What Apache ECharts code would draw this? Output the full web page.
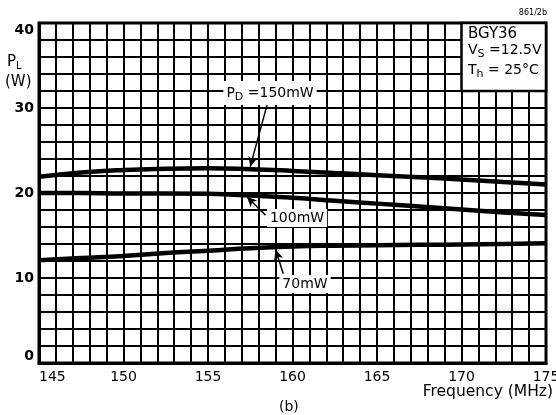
<!DOCTYPE html>
<html>
<head>
<meta charset="utf-8">
<script src="https://cdn.jsdelivr.net/npm/echarts@6/dist/echarts.min.js"></script>
<style>
  html, body { margin: 0; padding: 0; background: #fff; }
  #main { width: 556px; height: 415px; }
</style>
</head>
<body>
<div id="main"></div>
<script>
// frequency (MHz)
var freq = [145, 147.5, 150, 152.5, 155, 157.5, 160, 162.5, 165, 167.5, 170, 172.5, 175]
// output power PL (W) for each drive power
var pd150 = [21.9, 22.4, 22.7, 22.85, 22.9, 22.8, 22.6, 22.35, 22.1, 21.85, 21.6, 21.3, 21.0]
var pd100 = [20.0, 20.0, 19.95, 19.95, 19.9, 19.72, 19.45, 19.1, 18.75, 18.4, 18.05, 17.7, 17.4]
var pd70 = [12.1, 12.35, 12.6, 12.95, 13.2, 13.5, 13.7, 13.8, 13.85, 13.9, 13.95, 14.0, 14.1]
var yTicks = [0, 10, 20, 30, 40]
var xTicks = [145, 150, 155, 160, 165, 170, 175]

var font = 'DejaVu Sans'
var myChart = echarts.init(document.getElementById('main'))

function pairs(ys) {
    var out = []
    for (var i = 0; i < freq.length; i++) {
        out.push([freq[i], ys[i]])
    }
    return out
}

// little pointer from label to curve
function arrow(from, to) {
    return {
        silent: true,
        symbol: ['none', 'arrow'],
        symbolSize: [7, 10],
        label: { show: false },
        lineStyle: { color: '#000', width: 1.5, type: 'solid' },
        data: [[{ coord: from }, { coord: to }]]
    }
}

function tag(pos, text) {
    return {
        silent: true,
        symbol: 'rect',
        symbolSize: 0,
        data: [{
            coord: pos,
            label: {
                show: true,
                position: 'inside',
                formatter: text,
                color: '#000',
                fontFamily: font,
                fontSize: 14,
                backgroundColor: '#fff',
                padding: [2, 3],
                rich: {
                    sub: { fontSize: 11, fontFamily: font, padding: [9, 0, 0, 0] },
                    txt: { fontSize: 14, fontFamily: font }
                }
            }
        }]
    }
}

var lineStyle = { color: '#000', width: 4.5 }

var option = {
    animation: false,
    backgroundColor: '#fff',
    grid: {
        left: 39, right: 10, top: 23, bottom: 52,
        containLabel: false, outerBoundsMode: 'none',
        show: true, borderColor: '#000', borderWidth: 3
    },
    xAxis: {
        type: 'value',
        min: 145, max: 175, interval: 5,
        axisLine: { show: true, lineStyle: { color: '#000', width: 3 } },
        axisTick: { show: false },
        axisLabel: {
            color: '#000', fontFamily: font, fontSize: 14, margin: 7,
            alignMinLabel: 'left',
            formatter: function (v) { return xTicks.indexOf(v) >= 0 ? String(v) : '' }
        },
        splitLine: { show: true, lineStyle: { color: '#000', width: 2 } },
        minorTick: { show: false, splitNumber: 5 },
        minorSplitLine: { show: true, lineStyle: { color: '#000', width: 2 } }
    },
    yAxis: {
        type: 'value',
        min: 0, max: 40, interval: 10,
        axisLine: { show: true, lineStyle: { color: '#000', width: 3 } },
        axisTick: { show: false },
        axisLabel: {
            color: '#000', fontFamily: font, fontSize: 14, fontWeight: 'bold', margin: 5,
            verticalAlignMinLabel: 'bottom', verticalAlignMaxLabel: 'top',
            formatter: function (v) { return yTicks.indexOf(v) >= 0 ? String(v) : '' }
        },
        splitLine: { show: true, lineStyle: { color: '#000', width: 2 } },
        minorTick: { show: false, splitNumber: 5 },
        minorSplitLine: { show: true, lineStyle: { color: '#000', width: 2 } }
    },
    series: [
        {
            name: '150mW', type: 'line', smooth: true, showSymbol: false,
            lineStyle: lineStyle, data: pairs(pd150),
            markLine: arrow([158.5, 30.4], [157.5, 23.1]),
            markPoint: tag([158.67, 31.76], '{txt|P}{sub|D}{txt| =150mW}'),
            // info box in the upper right corner
            markArea: {
                silent: true,
                itemStyle: { color: '#fff', borderColor: '#000', borderWidth: 2.5 },
                data: [[{ coord: [170, 32] }, { coord: [175, 40] }]]
            }
        },
        {
            name: '100mW', type: 'line', smooth: true, showSymbol: false,
            lineStyle: lineStyle, data: pairs(pd100),
            markLine: arrow([158.4, 17.4], [157.3, 19.55]),
            markPoint: tag([160.27, 17.06], '100mW')
        },
        {
            name: '70mW', type: 'line', smooth: true, showSymbol: false,
            lineStyle: lineStyle, data: pairs(pd70),
            markLine: arrow([159.45, 10.5], [159.0, 13.35]),
            markPoint: tag([160.74, 9.29], '70mW')
        }
    ],
    graphic: [
        {
            type: 'text', left: 7, top: 55, z: 100,
            style: {
                text: '{a|P}{b|L}', fill: '#000',
                rich: {
                    a: { fontFamily: font, fontSize: 15 },
                    b: { fontFamily: font, fontSize: 10, padding: [8, 0, 0, 0] }
                }
            }
        },
        {
            type: 'text', left: 5, top: 75, z: 100,
            style: { text: '(W)', fill: '#000', font: '15px ' + font }
        },
        {
            type: 'text', right: 9, top: 9, z: 100,
            style: { text: '861/2b', fill: '#000', font: '8px ' + font }
        },
        {
            type: 'text', left: 468, top: 27, z: 100,
            style: { text: 'BGY36', fill: '#000', font: '15px ' + font }
        },
        {
            type: 'text', left: 468, top: 43, z: 100,
            style: {
                text: '{a|V}{b|S}{a| =12.5V}', fill: '#000',
                rich: {
                    a: { fontFamily: font, fontSize: 14 },
                    b: { fontFamily: font, fontSize: 11, padding: [8, 0, 0, 0] }
                }
            }
        },
        {
            type: 'text', left: 468, top: 63, z: 100,
            style: {
                text: '{a|T}{b|h}{a| = 25\u00b0C}', fill: '#000',
                rich: {
                    a: { fontFamily: font, fontSize: 14 },
                    b: { fontFamily: font, fontSize: 11, padding: [8, 0, 0, 0] }
                }
            }
        },
        {
            type: 'text', right: 3, top: 384, z: 100,
            style: { text: 'Frequency (MHz)', fill: '#000', font: '15.5px ' + font }
        },
        {
            type: 'text', left: 279, top: 400, z: 100,
            style: { text: '(b)', fill: '#000', font: '14px ' + font }
        }
    ]
}

myChart.setOption(option)
window.addEventListener('resize', function () {
    myChart.resize()
})
</script>
</body>
</html>
